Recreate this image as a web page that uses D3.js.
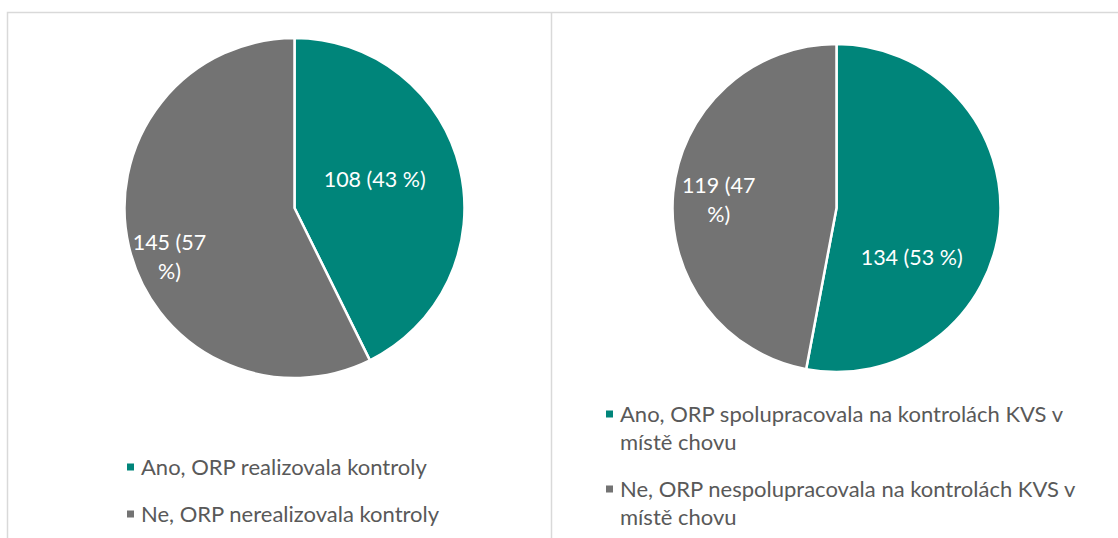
<!DOCTYPE html>
<html>
<head>
<meta charset="utf-8">
<script src="https://d3js.org/d3.v7.min.js"></script>
<style>
  body { margin: 0; background: #ffffff; }
  text { font-family: Lato, "Open Sans", sans-serif; }
</style>
</head>
<body>
<script>
// data, left chart
const leftCategories = ["Ano, ORP realizovala kontroly", "Ne, ORP nerealizovala kontroly"];
const leftValues = [108, 145];
// data, right chart
const rightCategories = ["Ano, ORP spolupracovala na kontrolách KVS v místě chovu",
                         "Ne, ORP nespolupracovala na kontrolách KVS v místě chovu"];
const rightValues = [134, 119];
const sliceColors = ["#00857a", "#737373"];

const svg_w = 1118, svg_h = 538;
const svg = d3.select("body").append("svg")
    .attr("width", svg_w)
    .attr("height", svg_h);

// panel frames
svg.append("path")
    .attr("d", "M7.5," + svg_h + "V12.5H551.5V" + svg_h + "M551.5,12.5H" + svg_w)
    .attr("fill", "none")
    .attr("stroke", "#d9d9d9")
    .attr("stroke-width", 1.5);

// layout of each panel (label places as angle in degrees + fraction of radius)
const panels = [
    {cats: leftCategories, vals: leftValues, cx: 294.5, cy: 208, r: 170,
     labelPolar: [[70.7, 0.5], [248.6, 0.79]], labelWrap: [200, 85],
     legendX: 127, legendY: 467, legendWrap: 465},
    {cats: rightCategories, vals: rightValues, cx: 836.5, cy: 208, r: 164,
     labelPolar: [[123.5, 0.55], [273.9, 0.72]], labelWrap: [200, 85],
     legendX: 606, legendY: 414, legendWrap: 465}
];

const labelSize = 21.5;
const legendSize = 22;
const lineH = 28;

// split text into lines no wider than maxW
function wrapLines(txt, maxW, size) {
    const probe = svg.append("text").style("font-size", size + "px");
    const words = txt.split(" ");
    const lines = [];
    let cur = words[0];
    for (let i = 1; i < words.length; i++) {
        probe.text(cur + " " + words[i]);
        if (probe.node().getComputedTextLength() > maxW) {
            lines.push(cur);
            cur = words[i];
        } else {
            cur = cur + " " + words[i];
        }
    }
    lines.push(cur);
    probe.remove();
    return lines;
}

for (const p of panels) {
    const total = d3.sum(p.vals);
    const pie = d3.pie().sort(null).value(d => d);
    const arc = d3.arc().innerRadius(0).outerRadius(p.r);
    const arcs = pie(p.vals);

    const g = svg.append("g").attr("transform", "translate(" + p.cx + "," + p.cy + ")");

    g.selectAll("path")
        .data(arcs)
        .enter()
        .append("path")
        .attr("d", arc)
        .attr("fill", (d, i) => sliceColors[i])
        .attr("stroke", "#ffffff")
        .attr("stroke-width", 2.5)
        .attr("stroke-linejoin", "round");

    // data labels
    arcs.forEach((d, i) => {
        const pct = Math.round(d.data / total * 100);
        const label = d.data + " (" + pct + " %)";
        const lines = wrapLines(label, p.labelWrap[i], labelSize);
        const a = p.labelPolar[i][0] * Math.PI / 180;
        const lr = p.labelPolar[i][1] * p.r;
        const lx = Math.sin(a) * lr;
        const ly = -Math.cos(a) * lr;
        const t = g.append("text")
            .attr("text-anchor", "middle")
            .attr("fill", "#ffffff")
            .style("font-size", labelSize + "px");
        lines.forEach((ln, k) => {
            t.append("tspan")
                .attr("x", lx)
                .attr("y", ly + (k - (lines.length - 1) / 2) * 29)
                .attr("dy", "0.35em")
                .text(ln);
        });
    });

    // legend
    let y = p.legendY;
    p.cats.forEach((c, i) => {
        svg.append("rect")
            .attr("x", p.legendX)
            .attr("y", y - 3.5)
            .attr("width", 7)
            .attr("height", 7)
            .attr("fill", sliceColors[i]);
        const lines = wrapLines(c, p.legendWrap, legendSize);
        const t = svg.append("text")
            .attr("fill", "#595959")
            .style("font-size", legendSize + "px");
        lines.forEach((ln, k) => {
            t.append("tspan")
                .attr("x", p.legendX + 14)
                .attr("y", y + k * lineH)
                .attr("dy", "0.35em")
                .text(ln);
        });
        y += lines.length * lineH + 19;
    });
}
</script>
</body>
</html>
